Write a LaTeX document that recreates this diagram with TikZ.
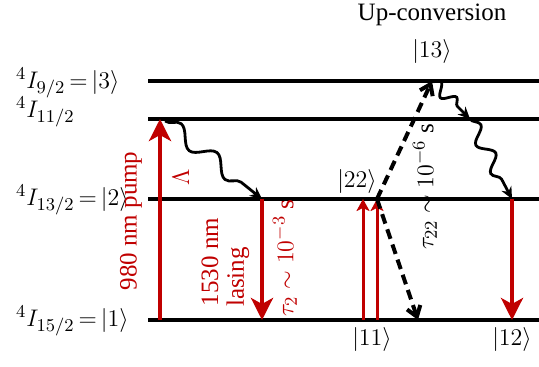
\documentclass[tikz,border=0pt]{standalone}
\usepackage{fontspec}
\setmainfont{Liberation Serif}
\usepackage{tikz}
\usetikzlibrary{arrows.meta,decorations.pathmorphing,positioning}
\definecolor{lasred}{HTML}{C00000}

\begin{document}
\begin{tikzpicture}[x=0.5pt,y=-0.5pt,
  font=\fontsize{12.5}{15}\selectfont,
  level/.style={line width=1.9pt},
  pumparrow/.style={draw=lasred,line width=2pt,-{Stealth[length=11pt,width=11pt,inset=3pt]}},
  thinred/.style={draw=lasred,line width=1.5pt,-{Stealth[length=6pt,width=6.5pt,inset=1.5pt]}},
  wiggle/.style={draw,line width=1.4pt,-{Stealth[length=6pt,width=5.5pt]},decorate,
    decoration={snake,amplitude=4pt,segment length=23pt,post length=5pt}},
  dasharrow/.style={line width=2pt,dash pattern=on 5pt off 3pt,-{Straight Barb[length=5pt,width=7pt]}},
  redlabel/.style={text=lasred,rotate=90}]
  \useasboundingbox (0,0) rectangle (539,367);
  % energy levels
  \foreach \y/\n in {81/3b,119/3a,199/2,320/1}
    \draw[level] (148,\y) coordinate (l\n w) -- (539,\y) coordinate (l\n e);
  % level names
  \node[anchor=west] (lab3b) at (9,83) {$^4I_{9/2}\,{=}\,|3\rangle$};
  \node[anchor=west] (lab3a) at (9,112) {$^4I_{11/2}$};
  \node[anchor=west] (lab2) at (9,200) {$^4I_{13/2}\,{=}\,|2\rangle$};
  \node[anchor=west] (lab1) at (9,321) {$^4I_{15/2}\,{=}\,|1\rangle$};
  % points on the levels
  \coordinate (pumpB) at (160,320); \coordinate (pumpT) at (160,119);
  \coordinate (wigA) at (165,121);
  \coordinate (lasT) at (262,199); \coordinate (lasB) at (262,320);
  \coordinate (u11a) at (363,320); \coordinate (u22a) at (363,199);
  \coordinate (u11b) at (377,320); \coordinate (u22) at (377,199);
  \coordinate (u13) at (432,81); \coordinate (umid) at (470,119);
  \coordinate (u12t) at (512,199); \coordinate (u12) at (512,320);
  \coordinate (d11) at (418,320);
  % pump and lasing
  \draw[pumparrow] (pumpB) -- (pumpT);
  \draw[wiggle] (wigA) -- (lasT);
  \draw[pumparrow] (lasT) -- (lasB);
  \node[redlabel] (n980) at (131,221) {980 nm pump};
  \node[text=lasred,rotate=90] (lam) at (181,177) {$\Lambda$};
  \node[redlabel] (n1530) at (210,262) {1530 nm};
  \node[redlabel] (nlas) at (238,277) {lasing};
  \node[redlabel] (tau2) at (285,258) {$\tau_2\sim10^{-3}$ s};
  % up-conversion
  \node (upc) at (432,15) {Up-conversion};
  \draw[thinred] (u11a) -- (u22a);
  \draw[thinred] (u11b) -- (u22);
  \draw[dasharrow] (u22) -- (u13);
  \draw[dasharrow] (u22) -- (d11);
  \draw[wiggle,decoration={segment length=11pt,amplitude=3pt,post length=4pt}] (u13) -- (umid);
  \draw[wiggle,decoration={segment length=16pt,amplitude=3.5pt}] (umid) -- (u12t);
  \draw[pumparrow] (u12t) -- (u12);
  \node[rotate=90] (tau22) at (425,187) {$\tau_{22}\sim10^{-6}$ s};
  % state labels
  \node (k13) at (432,52) {$|13\rangle$};
  \node (k22) at (357,182) {$|22\rangle$};
  \node (k11) at (372,339) {$|11\rangle$};
  \node (k12) at (512,339) {$|12\rangle$};
\end{tikzpicture}
\end{document}
